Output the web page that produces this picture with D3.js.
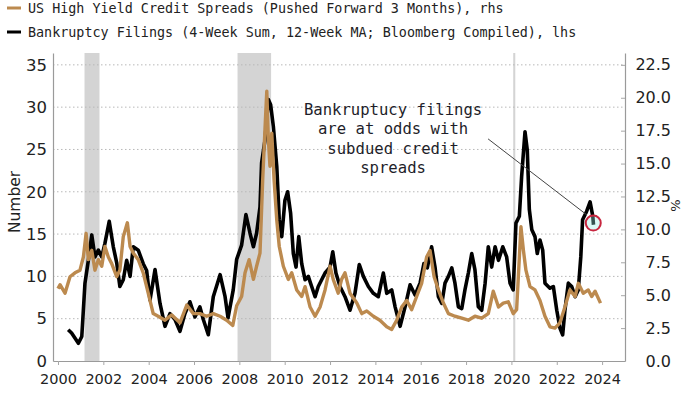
<!DOCTYPE html>
<html>
<head>
<meta charset="utf-8">
<script src="https://cdnjs.cloudflare.com/ajax/libs/d3/7.8.5/d3.min.js"></script>
<style>
  body { margin: 0; background: #fff; }
  svg { display: block; }
</style>
</head>
<body>
<div id="chart"></div>
<script>
// legend labels
var seriesNames = [
  "US High Yield Credit Spreads (Pushed Forward 3 Months), rhs",
  "Bankruptcy Filings (4-Week Sum, 12-Week MA; Bloomberg Compiled), lhs"
];

// bankruptcy filings, lhs (decimal year, number)
var filingYears = [2000.45, 2000.6, 2000.9, 2001.05, 2001.19, 2001.34, 2001.49, 2001.63, 2001.78, 2001.93,
  2002.07, 2002.26, 2002.44, 2002.59, 2002.73, 2002.88, 2003.03, 2003.18, 2003.32, 2003.54,
  2003.76, 2003.91, 2004.06, 2004.28, 2004.5, 2004.72, 2004.94, 2005.16, 2005.38, 2005.6,
  2005.82, 2006.04, 2006.26, 2006.41, 2006.63, 2006.85, 2007.15, 2007.37, 2007.5, 2007.73,
  2007.88, 2008.1, 2008.29, 2008.47, 2008.62, 2008.76, 2008.91, 2008.98, 2009.13, 2009.28,
  2009.38, 2009.5, 2009.65, 2009.76, 2009.87, 2010.01, 2010.13, 2010.26, 2010.38, 2010.5,
  2010.62, 2010.75, 2010.9, 2011.04, 2011.19, 2011.34, 2011.48, 2011.63, 2011.78, 2012.0,
  2012.12, 2012.26, 2012.44, 2012.66, 2012.88, 2013.1, 2013.29, 2013.47, 2013.69, 2013.91,
  2014.13, 2014.35, 2014.5, 2014.72, 2014.87, 2015.09, 2015.31, 2015.53, 2015.75, 2015.97,
  2016.14, 2016.29, 2016.48, 2016.63, 2016.78, 2016.93, 2017.07, 2017.22, 2017.37, 2017.51,
  2017.66, 2017.81, 2017.95, 2018.1, 2018.25, 2018.39, 2018.54, 2018.69, 2018.84, 2018.98,
  2019.13, 2019.28, 2019.43, 2019.62, 2019.79, 2019.94, 2020.08, 2020.2, 2020.35, 2020.45,
  2020.6, 2020.7, 2020.79, 2020.9, 2021.04, 2021.14, 2021.26, 2021.38, 2021.48, 2021.7,
  2021.85, 2022.0, 2022.14, 2022.26, 2022.36, 2022.51, 2022.66, 2022.81, 2022.95, 2023.06,
  2023.14, 2023.32, 2023.47, 2023.59, 2023.62];
var filingValues = [3.7, 3.3, 2.1, 2.9, 9.2, 11.9, 14.9, 12.3, 13.1, 12.3,
  13.9, 16.5, 13.5, 11.6, 8.8, 9.6, 11.9, 10.0, 13.5, 13.1,
  11.5, 10.7, 7.2, 10.8, 6.8, 4.1, 5.6, 4.9, 3.5, 5.6,
  7.0, 5.2, 6.4, 4.9, 3.1, 7.6, 10.2, 7.6, 5.1, 8.4,
  12.0, 13.7, 17.3, 15.1, 13.5, 15.1, 18.2, 23.4, 26.1, 30.9,
  30.3, 27.7, 23.0, 16.7, 14.7, 19.0, 20.0, 17.5, 12.7, 11.1,
  14.7, 11.5, 9.6, 10.0, 8.8, 7.6, 8.8, 9.6, 10.4, 11.1,
  12.9, 10.4, 8.8, 7.6, 6.0, 8.0, 11.4, 10.0, 8.8, 8.0,
  7.6, 10.4, 8.0, 8.4, 6.4, 4.1, 6.4, 9.0, 7.8, 9.2,
  11.5, 11.0, 13.5, 11.1, 7.6, 6.8, 9.2, 10.0, 11.0, 9.2,
  6.4, 6.2, 8.4, 10.4, 12.7, 10.8, 6.4, 6.0, 9.2, 13.5,
  11.1, 13.5, 11.9, 13.5, 12.3, 9.2, 8.4, 16.3, 17.1, 21.8,
  27.1, 24.9, 17.9, 15.5, 14.7, 12.7, 14.3, 13.1, 9.2, 8.6,
  8.8, 6.0, 3.9, 3.1, 6.0, 9.2, 8.8, 7.6, 8.4, 12.3,
  16.7, 17.7, 18.8, 17.1, 16.1];

// high yield spreads pushed forward 3 months, rhs (decimal year, %)
var spreadYears = [2000.0, 2000.09, 2000.31, 2000.53, 2000.75, 2000.97, 2001.12, 2001.24, 2001.34, 2001.49,
  2001.63, 2001.78, 2001.93, 2002.07, 2002.22, 2002.37, 2002.59, 2002.73, 2002.88, 2003.06,
  2003.18, 2003.32, 2003.54, 2003.76, 2003.98, 2004.2, 2004.42, 2004.72, 2005.02, 2005.38,
  2005.68, 2005.97, 2006.26, 2006.56, 2006.85, 2007.15, 2007.44, 2007.71, 2007.88, 2008.1,
  2008.25, 2008.43, 2008.62, 2008.76, 2008.91, 2009.03, 2009.13, 2009.21, 2009.28, 2009.35,
  2009.43, 2009.53, 2009.65, 2009.76, 2009.94, 2010.16, 2010.31, 2010.53, 2010.75, 2010.9,
  2011.12, 2011.34, 2011.56, 2011.78, 2012.0, 2012.14, 2012.36, 2012.51, 2012.66, 2012.88,
  2013.18, 2013.4, 2013.62, 2013.91, 2014.2, 2014.5, 2014.72, 2014.94, 2015.16, 2015.38,
  2015.6, 2015.82, 2016.04, 2016.26, 2016.41, 2016.59, 2016.78, 2017.0, 2017.22, 2017.51,
  2017.81, 2018.1, 2018.39, 2018.69, 2018.98, 2019.2, 2019.43, 2019.64, 2019.86, 2020.08,
  2020.23, 2020.42, 2020.53, 2020.64, 2020.82, 2021.04, 2021.26, 2021.48, 2021.7, 2021.92,
  2022.14, 2022.36, 2022.58, 2022.81, 2022.95, 2023.17, 2023.39, 2023.54, 2023.69, 2023.93];
var spreadValues = [5.5, 5.8, 5.15, 6.4, 6.7, 6.9, 7.9, 9.7, 7.7, 8.4,
  6.9, 7.7, 7.2, 8.7, 7.9, 7.4, 6.4, 6.9, 9.45, 10.5,
  8.7, 8.2, 7.7, 6.7, 5.15, 3.6, 3.4, 3.1, 3.5, 2.9,
  4.25, 3.6, 3.6, 3.4, 3.6, 3.4, 3.1, 2.7, 4.2, 4.9,
  6.7, 7.7, 6.2, 7.2, 8.2, 13.8, 17.6, 20.5, 16.8, 14.8,
  17.3, 13.8, 10.7, 8.7, 7.2, 6.2, 6.7, 5.4, 4.9, 5.65,
  4.1, 3.4, 4.1, 5.4, 7.2, 6.2, 5.15, 6.2, 6.7, 5.15,
  4.4, 3.6, 3.8, 3.4, 3.1, 2.6, 2.4, 3.1, 4.1, 4.6,
  3.9, 4.9, 5.9, 7.9, 8.4, 6.4, 5.4, 4.4, 3.6, 3.4,
  3.25, 3.1, 3.4, 3.25, 3.6, 5.3, 4.1, 4.4, 4.5, 3.6,
  3.9, 10.2, 8.4, 6.9, 5.65, 5.4, 4.6, 3.4, 2.6, 2.5,
  2.9, 4.1, 5.4, 4.9, 5.9, 5.15, 5.4, 4.9, 5.3, 4.4];

// recession bands (start, end)
var recessions = [[2001.17, 2001.83], [2007.92, 2009.4], [2020.08, 2020.17]];

var leftTicks = [0, 5, 10, 15, 20, 25, 30, 35];
var rightTicks = [0, 2.5, 5, 7.5, 10, 12.5, 15, 17.5, 20, 22.5];
var yearTicks = [2000, 2002, 2004, 2006, 2008, 2010, 2012, 2014, 2016, 2018, 2020, 2022, 2024];

var noteLines = ["Bankruptucy filings", "are at odds with", "subdued credit", "spreads"];

(function() {
  var width = 700, height = 394;
  var plotLeft = 53, plotRight = 625, plotTop = 53, plotBottom = 361;
  var tanColor = "#bc8a4f";

  var svg = d3.select("#chart").append("svg")
    .attr("width", width)
    .attr("height", height);

  var x = d3.scaleLinear().domain([1999.78, 2025.01]).range([plotLeft, plotRight]);
  var yLeft = d3.scaleLinear().domain([0, 36.4]).range([plotBottom, plotTop]);
  var yRight = d3.scaleLinear().domain([0, 23.4]).range([plotBottom, plotTop]);

  // recession shading
  svg.selectAll(".recession")
    .data(recessions)
    .enter()
    .append("rect")
    .attr("class", "recession")
    .attr("x", function(d) { return x(d[0]); })
    .attr("y", plotTop)
    .attr("width", function(d) { return Math.max(2, x(d[1]) - x(d[0])); })
    .attr("height", plotBottom - plotTop)
    .style("fill", "#d4d4d4");

  // dotted gridlines
  svg.selectAll(".grid")
    .data(leftTicks.slice(1))
    .enter()
    .append("line")
    .attr("class", "grid")
    .attr("x1", plotLeft)
    .attr("x2", plotRight)
    .attr("y1", function(d) { return yLeft(d); })
    .attr("y2", function(d) { return yLeft(d); })
    .style("stroke", "#b8b8b8")
    .style("stroke-width", 1)
    .style("stroke-dasharray", "1.5,2.5");

  // axes
  var leftAxis = svg.append("g")
    .attr("transform", "translate(" + plotLeft + ",0)")
    .call(d3.axisLeft(yLeft).tickValues(leftTicks).tickSize(0).tickPadding(6));

  var rightAxis = svg.append("g")
    .attr("transform", "translate(" + plotRight + ",0)")
    .call(d3.axisRight(yRight).tickValues(rightTicks).tickFormat(d3.format(".1f"))
      .tickSizeInner(-4).tickSizeOuter(0).tickPadding(8));
  rightAxis.selectAll("text").attr("x", 46).attr("text-anchor", "end");

  var bottomAxis = svg.append("g")
    .attr("transform", "translate(0," + plotBottom + ")")
    .call(d3.axisBottom(x).tickValues(yearTicks).tickFormat(d3.format("d"))
      .tickSizeInner(4).tickSizeOuter(0).tickPadding(9));

  [leftAxis, rightAxis, bottomAxis].forEach(function(g) {
    g.select(".domain").style("stroke", "#9a9a9a").style("stroke-width", 1.2);
    g.selectAll(".tick line").style("stroke", "#a8a8a8");
    g.selectAll("text")
      .style("font-family", "'DejaVu Sans', sans-serif")
      .style("fill", "#222");
  });
  leftAxis.selectAll("text").style("font-size", "16.5px");
  rightAxis.selectAll("text").style("font-size", "16px");
  bottomAxis.selectAll("text").style("font-size", "14.5px");

  // axis titles
  svg.append("text")
    .text("Number")
    .attr("transform", "translate(20," + yLeft(18.8) + ") rotate(-90)")
    .attr("text-anchor", "middle")
    .style("font-family", "'DejaVu Sans', sans-serif")
    .style("font-size", "15.5px")
    .style("fill", "#222");

  svg.append("text")
    .text("%")
    .attr("transform", "translate(680," + yRight(11.8) + ") rotate(-90)")
    .attr("text-anchor", "middle")
    .style("font-family", "'DejaVu Sans', sans-serif")
    .style("font-size", "13px")
    .style("fill", "#222");

  // series lines
  var filingLine = d3.line()
    .x(function(d, i) { return x(filingYears[i]); })
    .y(function(d) { return yLeft(d); });

  var spreadLine = d3.line()
    .x(function(d, i) { return x(spreadYears[i]); })
    .y(function(d) { return yRight(d); });

  svg.append("path")
    .datum(filingValues)
    .attr("d", filingLine)
    .style("fill", "none")
    .style("stroke", "#000")
    .style("stroke-width", 3.6)
    .style("stroke-linejoin", "round");

  svg.append("path")
    .datum(spreadValues)
    .attr("d", spreadLine)
    .style("fill", "none")
    .style("stroke", tanColor)
    .style("stroke-width", 3.4)
    .style("stroke-linejoin", "round");

  // annotation
  var noteX = x(2014.78);
  var note = svg.append("text")
    .attr("text-anchor", "middle")
    .style("font-family", "'DejaVu Sans Mono', monospace")
    .style("font-size", "15.6px")
    .style("fill", "#1e1e2a");
  note.selectAll("tspan")
    .data(noteLines)
    .enter()
    .append("tspan")
    .attr("x", noteX)
    .attr("y", function(d, i) { return yLeft(29.1) + i * 19.5; })
    .text(function(d) { return d; });

  svg.append("line")
    .attr("x1", x(2018.97))
    .attr("y1", yLeft(26.25))
    .attr("x2", x(2023.33))
    .attr("y2", yLeft(17.26))
    .style("stroke", "#444")
    .style("stroke-width", 1);

  svg.append("circle")
    .attr("cx", x(2023.61))
    .attr("cy", yLeft(16.3))
    .attr("r", 7.5)
    .style("fill", "rgba(150,235,230,0.35)")
    .style("stroke", "#c8263f")
    .style("stroke-width", 2);

  // legend
  var legend = svg.selectAll(".legend")
    .data(seriesNames)
    .enter()
    .append("g")
    .attr("class", "legend")
    .attr("transform", function(d, i) { return "translate(0," + (8 + i * 24) + ")"; });

  legend.append("line")
    .attr("x1", 7)
    .attr("x2", 21)
    .style("stroke", function(d, i) { return i === 0 ? tanColor : "#000"; })
    .style("stroke-width", 3);

  legend.append("text")
    .text(function(d) { return d; })
    .attr("x", 28)
    .attr("dy", "0.36em")
    .style("font-family", "'DejaVu Sans Mono', monospace")
    .style("font-size", "13.4px")
    .style("fill", "#222");
})();
</script>
</body>
</html>
